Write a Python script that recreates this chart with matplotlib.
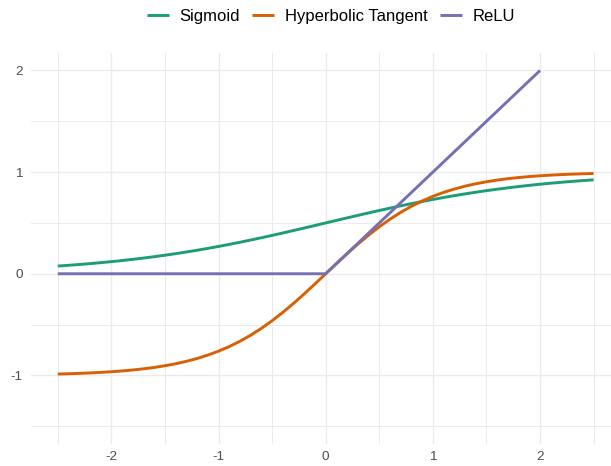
import matplotlib
matplotlib.use("Agg")
import matplotlib.pyplot as plt
from matplotlib.ticker import FixedLocator

plt.rcParams['font.family'] = ['Liberation Sans', 'DejaVu Sans']

# values (x from -2.5 to 2.5 in steps of 0.1)
x = [-2.5, -2.4, -2.3, -2.2, -2.1, -2.0, -1.9, -1.8, -1.7, -1.6,
     -1.5, -1.4, -1.3, -1.2, -1.1, -1.0, -0.9, -0.8, -0.7, -0.6,
     -0.5, -0.4, -0.3, -0.2, -0.1, 0.0, 0.1, 0.2, 0.3, 0.4,
     0.5, 0.6, 0.7, 0.8, 0.9, 1.0, 1.1, 1.2, 1.3, 1.4,
     1.5, 1.6, 1.7, 1.8, 1.9, 2.0, 2.1, 2.2, 2.3, 2.4, 2.5]
sigmoid = [0.0759, 0.0832, 0.0911, 0.0998, 0.1091, 0.1192, 0.1301, 0.1419, 0.1545, 0.1680,
           0.1824, 0.1978, 0.2142, 0.2315, 0.2497, 0.2689, 0.2891, 0.3100, 0.3318, 0.3543,
           0.3775, 0.4013, 0.4256, 0.4502, 0.4750, 0.5000, 0.5250, 0.5498, 0.5744, 0.5987,
           0.6225, 0.6457, 0.6682, 0.6900, 0.7109, 0.7311, 0.7503, 0.7685, 0.7858, 0.8022,
           0.8176, 0.8320, 0.8455, 0.8581, 0.8699, 0.8808, 0.8909, 0.9002, 0.9089, 0.9168, 0.9241]
tanh = [-0.9866, -0.9837, -0.9801, -0.9757, -0.9705, -0.9640, -0.9562, -0.9468, -0.9354, -0.9217,
        -0.9051, -0.8854, -0.8617, -0.8337, -0.8005, -0.7616, -0.7163, -0.6640, -0.6044, -0.5370,
        -0.4621, -0.3799, -0.2913, -0.1974, -0.0997, 0.0000, 0.0997, 0.1974, 0.2913, 0.3799,
        0.4621, 0.5370, 0.6044, 0.6640, 0.7163, 0.7616, 0.8005, 0.8337, 0.8617, 0.8854,
        0.9051, 0.9217, 0.9354, 0.9468, 0.9562, 0.9640, 0.9705, 0.9757, 0.9801, 0.9837, 0.9866]
x_relu = [-2.5, -2.0, -1.5, -1.0, -0.5, 0.0, 0.5, 1.0, 1.5, 2.0]
relu = [0.0, 0.0, 0.0, 0.0, 0.0, 0.0, 0.5, 1.0, 1.5, 2.0]

labels = ["Sigmoid", "Hyperbolic Tangent", "ReLU"]
colors = ["#1B9E77", "#D95F02", "#7570B3"]
x_ticks = [-2, -1, 0, 1, 2]
y_ticks = [-1, 0, 1, 2]

W, H = 611, 466
fig = plt.figure(figsize=(W / 100, H / 100), dpi=100)
left_px, right_px, top_px, bottom_px = 31.0, 620.4, 52.7, 444.0
ax = fig.add_axes([left_px / W, 1 - bottom_px / H, (right_px - left_px) / W, (bottom_px - top_px) / H])

ax.plot(x, sigmoid, color=colors[0], lw=2.1, label=labels[0], solid_capstyle='butt', zorder=3)
ax.plot(x, tanh, color=colors[1], lw=2.1, label=labels[1], solid_capstyle='butt', zorder=3)
ax.plot(x_relu, relu, color=colors[2], lw=2.1, label=labels[2], solid_capstyle='butt', zorder=3)

ax.set_xlim(-2.75, 2.75)
ax.set_ylim(-1.675, 2.175)
ax.xaxis.set_major_locator(FixedLocator(x_ticks))
ax.yaxis.set_major_locator(FixedLocator(y_ticks))
ax.xaxis.set_minor_locator(FixedLocator([-2.5, -1.5, -0.5, 0.5, 1.5, 2.5]))
ax.yaxis.set_minor_locator(FixedLocator([-1.5, -0.5, 0.5, 1.5]))
ax.set_xticklabels([str(v) for v in x_ticks])
ax.set_yticklabels([str(v) for v in y_ticks])
ax.grid(which='major', color='#EBEBEB', lw=1.0)
ax.grid(which='minor', color='#EBEBEB', lw=0.7)
ax.set_axisbelow(True)
for s in ax.spines.values():
    s.set_visible(False)
ax.tick_params(which='both', length=0)
ax.tick_params(axis='x', pad=5, labelsize=9.7, labelcolor='#4D4D4D')
ax.tick_params(axis='y', pad=6, labelsize=9.7, labelcolor='#4D4D4D')

fig.legend(loc='center', bbox_to_anchor=(331 / W, 1 - 16.5 / H), ncol=3, frameon=False,
           fontsize=12, handlelength=1.3, handletextpad=0.65, columnspacing=0.75)

fig.savefig("out.png", dpi=100)
